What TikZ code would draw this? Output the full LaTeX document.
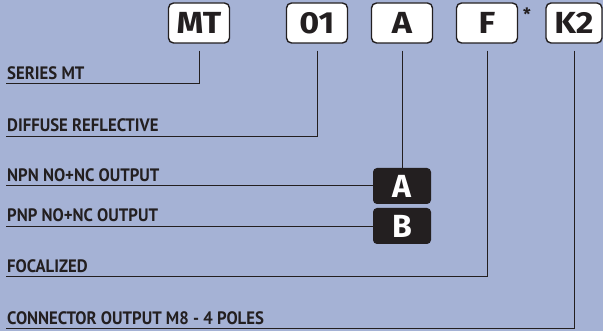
\documentclass[tikz,border=0pt]{standalone}
\usepackage{fontspec}
\setmainfont[FakeStretch=0.93]{PT Sans}
\newfontfamily\codefont[FakeStretch=1.12]{Fira Sans}
\newfontfamily\optfont{Fira Sans}
\definecolor{bg}{RGB}{165,178,213}
\definecolor{ink}{RGB}{35,31,32}
\begin{document}
\begin{tikzpicture}[x=1pt,y=-1pt,
  code/.style={draw=ink,line width=1.4pt,fill=white,rounded corners=5pt,minimum height=40pt,minimum width=61pt,inner sep=0pt,font=\codefont\fontsize{30.5}{30.5}\bfseries\selectfont,text=ink},
  opt/.style={fill=ink,rounded corners=4pt,minimum height=36pt,minimum width=58pt,inner sep=0pt,font=\optfont\fontsize{32}{32}\bfseries\selectfont,text=white},
  lab/.style={anchor=base west,inner sep=0pt,font=\fontsize{18}{18}\bfseries\selectfont,text=ink},
  lead/.style={draw=ink,line width=0.9pt}]
\fill[bg] (0,0) rectangle (603,331);
\useasboundingbox (0,0) rectangle (603,331);
% code boxes
\node[code] (MT) at (199,23) {MT};
\node[code] (c01) at (317,23) {01};
\node[code] (cA) at (402,23) {A};
\node[code] (cF) at (487,23) {F};
\node[code,minimum width=56pt] (cK) at (574,23) {K2};
\node[anchor=center,inner sep=0pt,font=\optfont\fontsize{17}{17}\bfseries\selectfont,text=ink] (ast) at (527,14) {*};
% option boxes
\node[opt] (oA) at (402,186) {A};
\node[opt] (oB) at (402,226) {B};
% labels
\node[lab] (l1) at (7,80) {SERIES MT};
\node[lab] (l2) at (7,132) {DIFFUSE REFLECTIVE};
\node[lab] (l3) at (7,182) {NPN NO+NC OUTPUT};
\node[lab] (l4) at (7,222) {PNP NO+NC OUTPUT};
\node[lab] (l5) at (7,273) {FOCALIZED};
\node[lab] (l6) at (7,325) {CONNECTOR OUTPUT M8 - 4 POLES};
% left ends of leaders
\coordinate (e1) at (6,83);
\coordinate (e2) at (6,136);
\coordinate (e3) at (6,185);
\coordinate (e4) at (6,226);
\coordinate (e5) at (6,276);
\coordinate (e6) at (6,328);
% leaders
\draw[lead] ([yshift=-7pt]MT.south) |- (e1);
\draw[lead] ([yshift=-7pt]c01.south) |- (e2);
\draw[lead] ([yshift=-7pt]cA.south) -- (oA.north);
\draw[lead] (e3) -- (oA.west |- e3);
\draw[lead] (e4) -- (oB.west |- e4);
\draw[lead] ([yshift=-7pt]cF.south) |- (e5);
\draw[lead] ([yshift=-7pt]cK.south) |- (e6);
\end{tikzpicture}
\end{document}
